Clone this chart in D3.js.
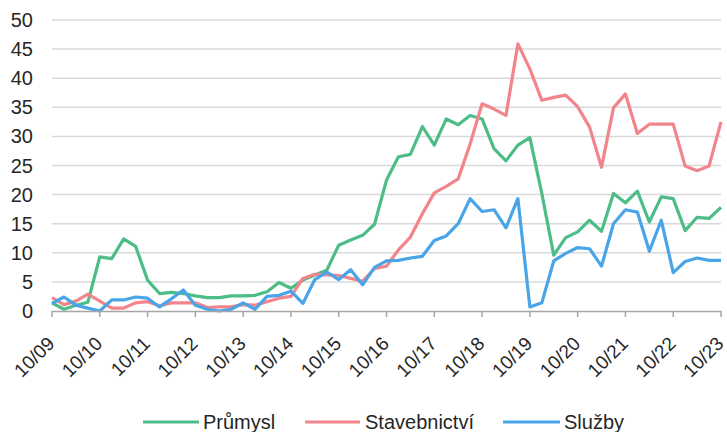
<!DOCTYPE html>
<html>
<head>
<meta charset="utf-8">
<script src="https://cdn.jsdelivr.net/npm/d3@7"></script>
<style>
  html, body { margin: 0; padding: 0; background: #fff; }
  svg { display: block; font-family: "Liberation Sans", Arial, sans-serif; }
</style>
</head>
<body>
<svg id="chart" width="727" height="432"></svg>
<script>
// Quarterly categories from 10/09 to 10/23
const categories = [
  "10/09","01/10","04/10","07/10","10/10","01/11","04/11","07/11","10/11",
  "01/12","04/12","07/12","10/12","01/13","04/13","07/13","10/13",
  "01/14","04/14","07/14","10/14","01/15","04/15","07/15","10/15",
  "01/16","04/16","07/16","10/16","01/17","04/17","07/17","10/17",
  "01/18","04/18","07/18","10/18","01/19","04/19","07/19","10/19",
  "01/20","04/20","07/20","10/20","01/21","04/21","07/21","10/21",
  "01/22","04/22","07/22","10/22","01/23","04/23","07/23","10/23"
];
const tickLabels = ["10/09","10/10","10/11","10/12","10/13","10/14","10/15","10/16",
  "10/17","10/18","10/19","10/20","10/21","10/22","10/23"];
const yTicks = [0,5,10,15,20,25,30,35,40,45,50];

const prumysl = [1.4,0.3,1.0,1.5,9.3,9.0,12.4,11.1,5.3,3.0,3.2,3.0,2.6,2.3,2.3,2.6,
  2.6,2.7,3.3,4.9,3.9,5.3,6.2,7.0,11.3,12.2,13.0,14.9,22.5,26.5,26.9,31.7,
  28.5,33.0,32.0,33.6,33.0,27.9,25.8,28.5,29.8,20.2,9.6,12.6,13.6,15.6,13.7,20.2,
  18.6,20.6,15.3,19.6,19.3,13.8,16.1,15.9,17.8];
const stavebnictvi = [2.3,1.1,1.7,2.9,1.7,0.5,0.5,1.4,1.6,0.9,1.4,1.4,1.4,0.6,0.7,0.7,
  1.1,1.0,1.6,2.2,2.5,5.6,6.3,6.2,6.1,5.6,5.1,7.3,7.7,10.5,12.7,16.7,
  20.3,21.4,22.7,28.7,35.6,34.7,33.6,45.9,41.6,36.2,36.7,37.1,35.1,31.6,24.7,34.9,
  37.3,30.5,32.1,32.1,32.1,24.9,24.1,24.9,32.5];
const sluzby = [1.3,2.4,1.0,0.5,0.0,1.9,1.9,2.4,2.2,0.7,2.1,3.6,1.0,0.3,0.0,0.3,
  1.4,0.3,2.5,2.7,3.4,1.3,5.4,6.7,5.4,7.1,4.5,7.5,8.6,8.7,9.1,9.4,
  12.1,12.9,15.0,19.3,17.1,17.4,14.3,19.3,0.7,1.4,8.6,9.9,10.9,10.7,7.7,15.0,
  17.4,17.0,10.3,15.6,6.6,8.5,9.1,8.7,8.7];

const seriesNames = ["Průmysl", "Stavebnictví", "Služby"];
const seriesColors = ["#4dbd88", "#f2858c", "#4aa5e8"];
const seriesData = [prumysl, stavebnictvi, sluzby];

const svg = d3.select("#chart");
const mLeft = 52, mRight = 721, mTop = 20, mBottom = 311;

const x = d3.scalePoint().domain(categories).range([mLeft, mRight]);
const y = d3.scaleLinear().domain([0, 50]).range([mBottom, mTop]);

// gridlines
svg.append("g").selectAll("line").data(yTicks.filter(d => d > 0)).join("line")
  .attr("x1", mLeft).attr("x2", mRight)
  .attr("y1", d => y(d)).attr("y2", d => y(d))
  .attr("stroke", "#d9d9d9").attr("stroke-width", 1.5);

// y axis labels
svg.append("g").selectAll("text").data(yTicks).join("text")
  .attr("x", 33).attr("y", d => y(d)).attr("dy", "0.35em")
  .attr("text-anchor", "end")
  .attr("font-size", 20).attr("fill", "#262626")
  .text(d => d);

// lines
const line = d3.line().x((d, i) => x(categories[i])).y(d => y(d));
seriesData.forEach((vals, k) => {
  svg.append("path").datum(vals)
    .attr("d", line)
    .attr("fill", "none")
    .attr("stroke", seriesColors[k])
    .attr("stroke-width", 3.2)
    .attr("stroke-linejoin", "round");
});

// x axis line and ticks
svg.append("line").attr("x1", mLeft).attr("x2", mRight)
  .attr("y1", mBottom + 0.5).attr("y2", mBottom + 0.5)
  .attr("stroke", "#a6a6a6").attr("stroke-width", 1.5);
svg.append("g").selectAll("line").data(tickLabels).join("line")
  .attr("x1", d => x(d)).attr("x2", d => x(d))
  .attr("y1", mBottom).attr("y2", mBottom + 6)
  .attr("stroke", "#a6a6a6").attr("stroke-width", 1.5);

svg.append("g").selectAll("text").data(tickLabels).join("text")
  .attr("transform", d => `translate(${x(d) - 1},${mBottom + 29}) rotate(-45)`)
  .attr("text-anchor", "end")
  .attr("dy", "0.35em")
  .attr("font-size", 19).attr("fill", "#262626")
  .text(d => d);

// legend
const legendItems = [
  { x1: 143, x2: 199, tx: 203 },
  { x1: 305, x2: 360, tx: 365 },
  { x1: 503, x2: 560, tx: 564 }
];
const ly = 422;
legendItems.forEach((it, k) => {
  svg.append("line").attr("x1", it.x1).attr("x2", it.x2)
    .attr("y1", ly).attr("y2", ly)
    .attr("stroke", seriesColors[k]).attr("stroke-width", 3.2);
  svg.append("text").attr("x", it.tx).attr("y", ly).attr("dy", "0.35em")
    .attr("font-size", 20).attr("fill", "#262626")
    .text(seriesNames[k]);
});
</script>
</body>
</html>
